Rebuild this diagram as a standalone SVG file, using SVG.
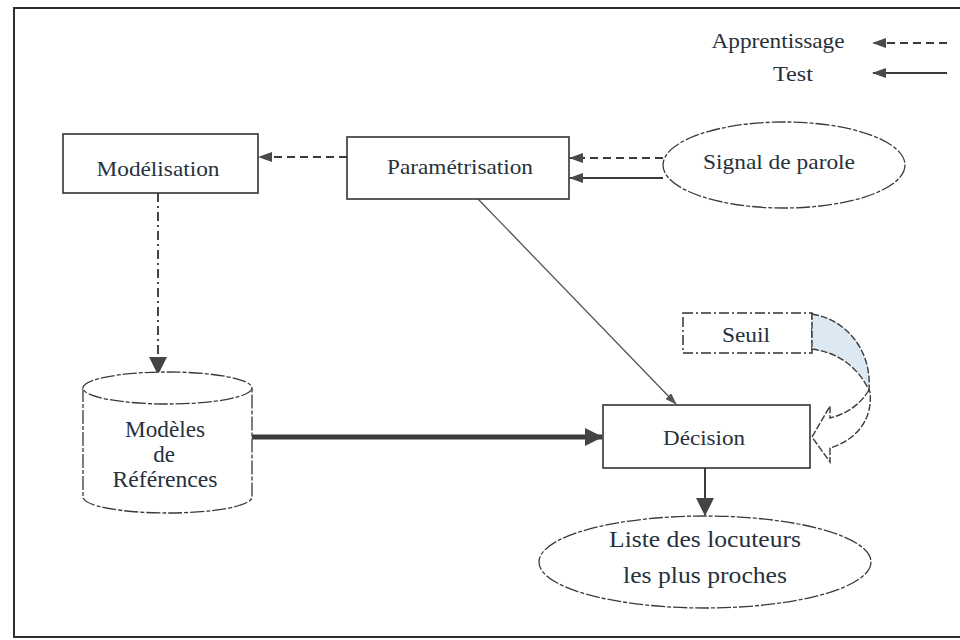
<svg xmlns="http://www.w3.org/2000/svg" width="960" height="640" viewBox="0 0 960 640">
  <defs>
    <style>
      .lbl { font-family: "Liberation Serif", "Times New Roman", serif; font-size: 21px; fill: #27313c; text-anchor: middle; }
      .big { font-size: 23px; }
      .box { fill: #ffffff; stroke: #333333; stroke-width: 1.6; }
      .soft { fill: #ffffff; stroke: #3a3a3a; stroke-width: 1.3; stroke-dasharray: 14 2 4 2; }
      .dash { fill: none; stroke: #3a3a3a; stroke-width: 1.8; stroke-dasharray: 8 5; }
      .solid { fill: none; stroke: #3a3a3a; stroke-width: 1.8; }
      .dashdot { fill: none; stroke: #333333; stroke-width: 1.8; stroke-dasharray: 9 4 2 4; }
    </style>
    <marker id="head" viewBox="0 0 14 10" refX="13" refY="5" markerWidth="14" markerHeight="10" markerUnits="userSpaceOnUse" orient="auto">
      <path d="M0,0 L14,5 L0,10 Z" fill="#4a4a4a"/>
    </marker>
    <marker id="headBig" viewBox="0 0 18 18" refX="17" refY="9" markerWidth="18" markerHeight="18" markerUnits="userSpaceOnUse" orient="auto">
      <path d="M0,0 L18,9 L0,18 Z" fill="#444444"/>
    </marker>
    <marker id="headThin" viewBox="0 0 12 8" refX="11" refY="4" markerWidth="12" markerHeight="8" markerUnits="userSpaceOnUse" orient="auto">
      <path d="M0,0 L12,4 L0,8 Z" fill="#555555"/>
    </marker>
  </defs>

  <rect width="960" height="640" fill="#ffffff"/>

  <!-- outer frame -->
  <path d="M962,8 H14 V637 H962" fill="none" stroke="#2e2e2e" stroke-width="2"/>

  <!-- legend -->
  <g id="legend">
    <text class="lbl" x="778" y="48" textLength="133" lengthAdjust="spacingAndGlyphs">Apprentissage</text>
    <text class="lbl" x="793" y="81" textLength="40" lengthAdjust="spacingAndGlyphs">Test</text>
    <line class="dash" x1="947" y1="43" x2="873" y2="43" marker-end="url(#head)"/>
    <line class="solid" x1="947" y1="73" x2="873" y2="73" marker-end="url(#head)"/>
  </g>

  <!-- connectors -->
  <g id="connectors">
    <line class="dash" x1="347" y1="157" x2="259" y2="157" marker-end="url(#head)"/>
    <line class="dash" x1="663" y1="158" x2="570" y2="158" marker-end="url(#head)"/>
    <line class="solid" x1="663" y1="178" x2="570" y2="178" marker-end="url(#head)"/>
    <line class="dashdot" x1="158" y1="193" x2="158" y2="374" marker-end="url(#headBig)"/>
    <line x1="478" y1="199" x2="676" y2="404" stroke="#555555" stroke-width="1.3" marker-end="url(#headThin)"/>
    <line x1="252" y1="437" x2="602" y2="437" stroke="#3a3a3a" stroke-width="5" marker-end="url(#headBig)"/>
    <line x1="705" y1="468" x2="705" y2="515" stroke="#3a3a3a" stroke-width="2" marker-end="url(#headBig)"/>
  </g>

  <!-- nodes -->
  <g id="modelisation">
    <rect class="box" x="63" y="134" width="195" height="59"/>
    <text class="lbl" x="158" y="176" textLength="123" lengthAdjust="spacingAndGlyphs">Modélisation</text>
  </g>

  <g id="parametrisation">
    <rect class="box" x="347" y="137" width="222" height="62"/>
    <text class="lbl" x="460" y="174" textLength="146" lengthAdjust="spacingAndGlyphs">Paramétrisation</text>
  </g>

  <g id="signal">
    <ellipse class="soft" cx="784" cy="165" rx="121" ry="43"/>
    <text class="lbl" x="779" y="169" textLength="152" lengthAdjust="spacingAndGlyphs">Signal de parole</text>
  </g>

  <g id="modeles-references">
    <path class="soft" d="M83,388 V497 A84.5,16 0 0 0 252,497 V388"/>
    <ellipse class="soft" cx="167.5" cy="388" rx="84.5" ry="16"/>
    <text class="lbl big" x="165" y="437" textLength="80" lengthAdjust="spacingAndGlyphs">Modèles</text>
    <text class="lbl big" x="164" y="462">de</text>
    <text class="lbl big" x="165" y="487" textLength="105" lengthAdjust="spacingAndGlyphs">Références</text>
  </g>

  <g id="seuil">
    <rect x="683" y="313" width="129" height="40" fill="#ffffff" stroke="#333333" stroke-width="1.5" stroke-dasharray="10 3 2 3"/>
    <text class="lbl" x="746" y="342" textLength="48" lengthAdjust="spacingAndGlyphs">Seuil</text>
  </g>

  <!-- curved arrow from the threshold into the decision box -->
  <g id="seuil-arrow" stroke="#3a3a3a" stroke-width="1.4" stroke-dasharray="7 2">
    <path d="M869,390 C860,405 846,414 830,418 L830,406 L812,437 L830,462 L830,448 C856,440 873,420 870,392 Z" fill="#ffffff"/>
    <path d="M812,314 C848,320 872,352 869,390 C858,368 840,353 812,349 Z" fill="#dce8f2"/>
  </g>

  <g id="decision">
    <rect class="box" x="603" y="405" width="207" height="63"/>
    <text class="lbl" x="704" y="445" textLength="82" lengthAdjust="spacingAndGlyphs">Décision</text>
  </g>

  <g id="liste">
    <ellipse class="soft" cx="705" cy="562" rx="166" ry="46"/>
    <text class="lbl big" x="705" y="547" textLength="192" lengthAdjust="spacingAndGlyphs">Liste des locuteurs</text>
    <text class="lbl big" x="705" y="583" textLength="164" lengthAdjust="spacingAndGlyphs">les plus proches</text>
  </g>
</svg>
